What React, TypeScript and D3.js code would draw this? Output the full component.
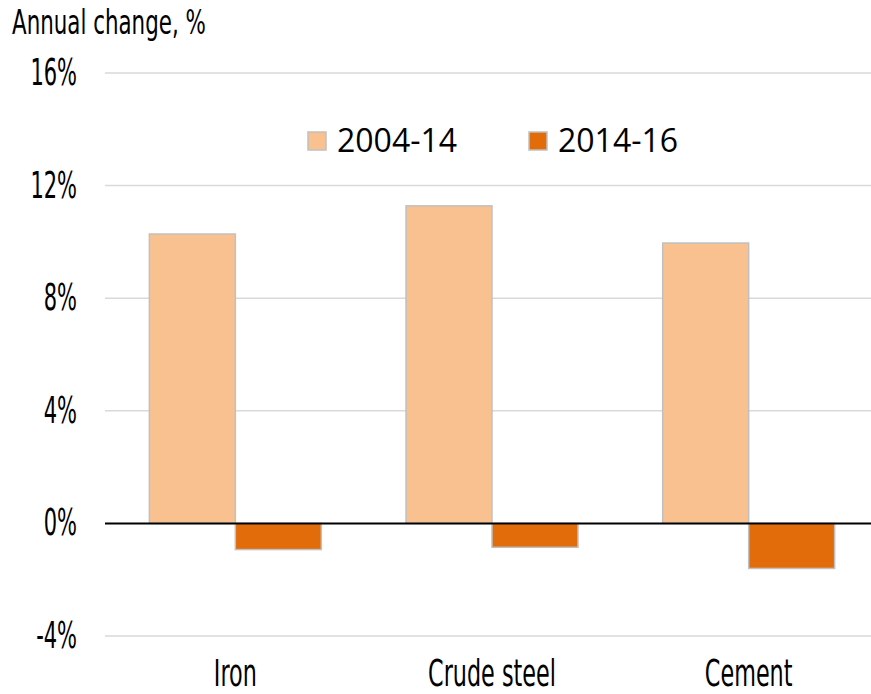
import React from "react";
import * as d3 from "d3";

const categories = ["Iron", "Crude steel", "Cement"];
const seriesNames = ["2004-14", "2014-16"];
const values2004_14 = [10.28, 11.28, 9.96];
const values2014_16 = [-0.93, -0.85, -1.6];
const yTicks = [-4, 0, 4, 8, 12, 16];
const colors = ["#F9C18F", "#E36C0A"];

const W = 871;
const H = 694;
const condensed = "'DejaVu Sans Condensed', 'DejaVu Sans', sans-serif";

export default function App() {
  const x = d3.scaleBand<string>().domain(categories).range([107, 877]).paddingInner(0.33).paddingOuter(0.165);
  const xs = d3.scaleBand<string>().domain(seriesNames).range([0, x.bandwidth()]);
  const y = d3.scaleLinear().domain([-4, 16]).range([636, 73]);
  const series = [values2004_14, values2014_16];

  return (
    <svg width={W} height={H} style={{ position: "absolute", left: 0, top: 0, background: "#fff" }}>
      {yTicks.filter((t) => t !== 0).map((t) => (
        <line key={t} x1={105} x2={W} y1={y(t)} y2={y(t)} stroke="#d9d9d9" strokeWidth={1.5} />
      ))}
      {yTicks.map((t) => (
        <text
          key={"l" + t}
          transform={`translate(77,${y(t) + 12}) scale(0.63,1)`}
          textAnchor="end"
          fontFamily={condensed}
          fontStretch="condensed"
          fontSize={37}
          fill="#000"
        >
          {String(t) + "%"}
        </text>
      ))}
      {categories.map((c, i) =>
        series.map((vals, s) => {
          const v = vals[i];
          const x0 = (x(c) as number) + (xs(seriesNames[s]) as number);
          return (
            <rect
              key={c + s}
              x={x0}
              width={xs.bandwidth()}
              y={Math.min(y(v), y(0))}
              height={Math.abs(y(v) - y(0))}
              fill={colors[s]}
              stroke="#c0c0c0"
              strokeWidth={1.5}
            />
          );
        })
      )}
      <line x1={105} x2={W} y1={y(0)} y2={y(0)} stroke="#000" strokeWidth={2} />
      {categories.map((c) => (
        <text
          key={"c" + c}
          transform={`translate(${(x(c) as number) + x.bandwidth() / 2},686) scale(0.67,1)`}
          textAnchor="middle"
          fontFamily={condensed}
          fontStretch="condensed"
          fontSize={37}
          fill="#000"
        >
          {c}
        </text>
      ))}
      <text
        transform="translate(12,34) scale(0.7,1)"
        fontFamily={condensed}
        fontStretch="condensed"
        fontSize={34}
        fill="#000"
      >
        Annual change, %
      </text>
      {seriesNames.map((n, i) => {
        const lx = 308 + i * 221;
        return (
          <g key={n}>
            <rect x={lx} y={132} width={18} height={18} fill={colors[i]} stroke="#c0c0c0" strokeWidth={1.5} />
            <text x={lx + 29} y={152} fontFamily="'Open Sans', 'Noto Sans', sans-serif" fontSize={32} fill="#000">
              {n}
            </text>
          </g>
        );
      })}
    </svg>
  );
}
